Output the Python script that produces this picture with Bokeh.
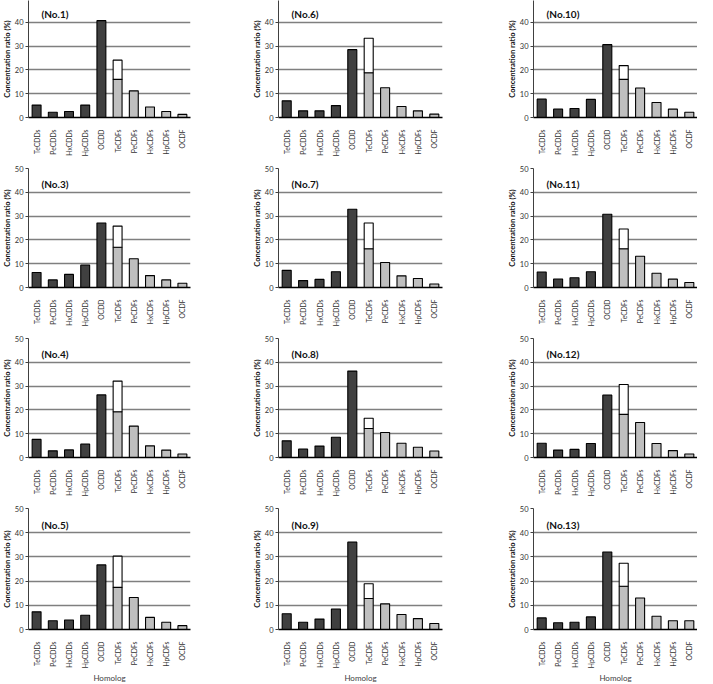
from math import pi
from bokeh.plotting import figure
from bokeh.layouts import column, row
from bokeh.models import Label, Title, FixedTicker, FactorRange, Range1d
from bokeh.embed import file_html
from bokeh.resources import INLINE

FONT = "Lato"

homologs = ["TeCDDs", "PeCDDs", "HxCDDs", "HpCDDs", "OCDD",
            "TeCDFs", "PeCDFs", "HxCDFs", "HpCDFs", "OCDF"]
y_ticks = [0, 10, 20, 30, 40, 50]

# Concentration ratio (%) per homolog; TeCDFs entry = lower (grey) part
no1 = [5.2, 2.2, 2.5, 5.2, 40.7, 16.0, 11.2, 4.4, 2.5, 1.3]
no3 = [6.3, 3.2, 5.5, 9.4, 27.1, 16.9, 12.1, 5.0, 3.2, 1.8]
no4 = [7.6, 2.8, 3.2, 5.6, 26.3, 19.2, 13.2, 4.9, 3.1, 1.5]
no5 = [7.3, 3.6, 3.9, 5.9, 26.7, 17.4, 13.2, 5.0, 3.0, 1.6]
no6 = [7.0, 2.8, 2.8, 5.0, 28.5, 18.8, 12.5, 4.6, 2.8, 1.4]
no7 = [7.2, 2.9, 3.4, 6.6, 32.9, 16.3, 10.5, 4.9, 3.8, 1.5]
no8 = [7.0, 3.5, 4.8, 8.5, 36.3, 12.2, 10.5, 6.0, 4.3, 2.7]
no9 = [6.5, 3.0, 4.3, 8.5, 36.1, 12.8, 10.6, 6.2, 4.5, 2.5]
no10 = [7.7, 3.5, 3.8, 7.6, 30.6, 16.0, 12.4, 6.3, 3.5, 2.2]
no11 = [6.5, 3.6, 4.1, 6.6, 30.8, 16.3, 13.1, 6.0, 3.5, 2.1]
no12 = [6.0, 3.1, 3.4, 5.9, 26.2, 18.1, 14.7, 5.9, 2.9, 1.5]
no13 = [4.8, 2.8, 3.0, 5.2, 32.0, 17.9, 13.0, 5.5, 3.6, 3.6]

# TeCDFs total height (top of white segment)
tecdfs_total = {"No.1": 24.1, "No.3": 25.8, "No.4": 32.1, "No.5": 30.3,
                "No.6": 33.3, "No.7": 27.1, "No.8": 16.5, "No.9": 18.9,
                "No.10": 21.8, "No.11": 24.6, "No.12": 30.7, "No.13": 27.4}

grid_names = [["No.1", "No.6", "No.10"],
              ["No.3", "No.7", "No.11"],
              ["No.4", "No.8", "No.12"],
              ["No.5", "No.9", "No.13"]]
grid_values = [[no1, no6, no10], [no3, no7, no11], [no4, no8, no12], [no5, no9, no13]]

DARK = "#404040"
LIGHT = "#bfbfbf"
bar_colors = [DARK] * 5 + [LIGHT] * 5

col_left = [27, 50, 50]
col_frame = [162, 164, 164]
col_right = [38, 41, 0]

row_top = [0, 6, 6, 6]
row_frame = [117, 119, 119, 121]
row_bottom = [45, 45, 45, 55]


def panel(name, vals, r, c):
    yend = 50.0 * row_frame[r] / 119.0 if r == 0 else 50.0
    p = figure(x_range=FactorRange(*homologs), y_range=Range1d(0, yend),
               frame_width=col_frame[c], frame_height=row_frame[r],
               min_border_left=col_left[c], min_border_right=col_right[c],
               min_border_top=row_top[r], min_border_bottom=row_bottom[r],
               output_backend="svg", toolbar_location=None, tools="")
    p.outline_line_color = None
    p.background_fill_color = "white"
    p.border_fill_color = "white"

    p.xgrid.grid_line_color = None
    p.ygrid.grid_line_color = "#7f7f7f"
    p.ygrid.grid_line_width = 1.5
    p.yaxis.ticker = FixedTicker(ticks=y_ticks)

    p.vbar(x=homologs, top=vals, width=0.55, fill_color=bar_colors,
           line_color="black", line_width=1.1)
    total = tecdfs_total[name]
    p.vbar(x=["TeCDFs"], bottom=[vals[5]], top=[total], width=0.55,
           fill_color="white", line_color="black", line_width=1.1)

    # axes
    p.xaxis.axis_line_color = "black"
    p.xaxis.axis_line_width = 1.6
    p.xaxis.major_tick_line_color = None
    p.xaxis.minor_tick_line_color = None
    p.xaxis.major_label_orientation = pi / 2
    p.xaxis.major_label_text_font = FONT
    p.xaxis.major_label_text_font_size = "6.8px"
    p.xaxis.major_label_text_color = "#333333"
    p.xaxis.major_label_standoff = 6

    p.yaxis.axis_line_color = "#404040"
    p.yaxis.axis_line_width = 1
    p.yaxis.major_tick_out = 3
    p.yaxis.major_tick_in = 0
    p.yaxis.major_tick_line_color = "#404040"
    p.yaxis.minor_tick_line_color = None
    p.yaxis.major_label_text_font = FONT
    p.yaxis.major_label_text_font_size = "7.5px"
    p.yaxis.major_label_text_color = "#333333"
    p.yaxis.major_label_standoff = 2

    # y-axis title as a side title (compact)
    p.add_layout(Title(text="Concentration ratio (%)", align="center",
                       text_font=FONT, text_font_style="bold",
                       text_font_size="7.5px", text_color="#111111",
                       standoff=0, offset=0), "left")

    if r == 3:
        p.xaxis.axis_label = "Homolog"
        p.xaxis.axis_label_text_font = FONT
        p.xaxis.axis_label_text_font_style = "normal"
        p.xaxis.axis_label_text_font_size = "8px"
        p.xaxis.axis_label_text_color = "#404040"
        p.xaxis.axis_label_standoff = 2

    p.add_layout(Label(x=0.8, y=43.3, text="(" + name + ")",
                       text_font=FONT, text_font_style="bold",
                       text_font_size="10px", text_color="#111111",
                       text_baseline="middle", text_align="left"))
    return p


rows = []
for r in range(4):
    figs = [panel(grid_names[r][c], grid_values[r][c], r, c) for c in range(3)]
    rows.append(row(*figs, spacing=0))
layout = column(*rows, spacing=0)

open("out.html", "w").write(file_html(layout, INLINE))
